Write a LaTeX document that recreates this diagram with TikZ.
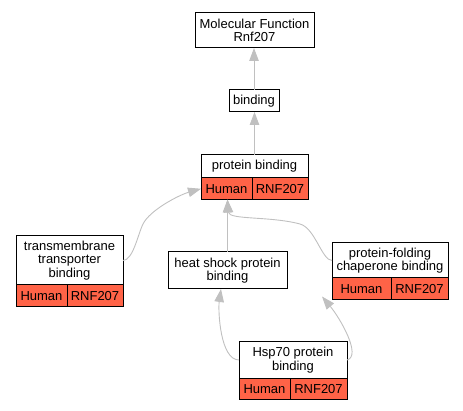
\documentclass[tikz,border=0pt]{standalone}
\usepackage{fontspec}
\setmainfont{Liberation Sans}
\usetikzlibrary{shapes,arrows.meta,positioning}
\definecolor{hitred}{HTML}{FF6347}
\definecolor{edgegray}{HTML}{C0C0C0}

\begin{document}
\begin{tikzpicture}[
			x=1pt, y=-1pt,
      > = {Triangle[length=13pt,width=9.5pt]},
			font=\fontsize{13}{13.5}\selectfont,
			semithick]
			\tikzstyle{term}=[
			draw = black,
			line width = 1pt,
			fill = white,
			rectangle,
			align = center,
			inner sep = 0pt,
			outer sep = 0pt]
			\tikzstyle{cell}=[term, fill = hitred, minimum height = 21.5pt]
			\tikzstyle{link}=[draw = edgegray, line width = 0.9pt, ->]

			\useasboundingbox (0,0) rectangle (463,411);

			\node[term, minimum width=119pt, minimum height=35pt] (mf) at (254.5,30.5) {Molecular Function\\Rnf207};
			\node[term, minimum width=50pt, minimum height=22pt] (bind) at (254,101) {binding};
			\node[term, minimum width=107pt, minimum height=23pt] (pbt) at (254.5,166.5) {protein binding};
			\node[cell, minimum width=51pt, below right=0pt of pbt.south west] (pbh) {Human};
			\node[cell, minimum width=56pt, right=0pt of pbh] (pbr) {RNF207};
			\node[term, minimum width=107pt, minimum height=49pt] (tmt) at (69.5,260.5) {transmembrane\\transporter\\binding};
			\node[cell, minimum width=51pt, below right=0pt of tmt.south west] (tmh) {Human};
			\node[cell, minimum width=56pt, right=0pt of tmh] (tmr) {RNF207};
			\node[term, minimum width=119pt, minimum height=37pt] (hs) at (227.5,270.5) {heat shock protein\\binding};
			\node[term, minimum width=116pt, minimum height=35pt] (pft) at (390,260.5) {protein-folding\\chaperone binding};
			\node[cell, minimum width=59pt, below right=0pt of pft.south west] (pfh) {Human};
			\node[cell, minimum width=57pt, right=0pt of pfh] (pfr) {RNF207};
			\node[term, minimum width=108pt, minimum height=36pt] (hspt) at (293,360) {Hsp70 protein\\binding};
			\node[cell, minimum width=51pt, below right=0pt of hspt.south west] (hsph) {Human};
			\node[cell, minimum width=57pt, right=0pt of hsph] (hspr) {RNF207};

			\draw[link] (bind.north) -- (bind.north |- mf.south);
			\draw[link] (pbt.north) -- (pbt.north |- bind.south);
			\draw[link] (hs.north) -- (hs.north |- pbh.south);
			\draw[link] (tmt.east) .. controls (133,260.5) and (138,234) .. (143,224) .. controls (150,210) and (179,195) .. (pbh.west);
			\draw[link] (pft.west) .. controls (322,260.5) and (315,228) .. (300,224) .. controls (270,216) and (229,220) .. (hs.north |- pbh.south);
			\draw[link] (hspt.west) .. controls (220,360) and (218,310) .. ([xshift=-6.5pt]hs.south);
			\draw[link] (hspt.east) .. controls (362,356) and (340,318) .. ([xshift=-10pt,yshift=3pt]pfh.south west);
		\end{tikzpicture}
\end{document}
